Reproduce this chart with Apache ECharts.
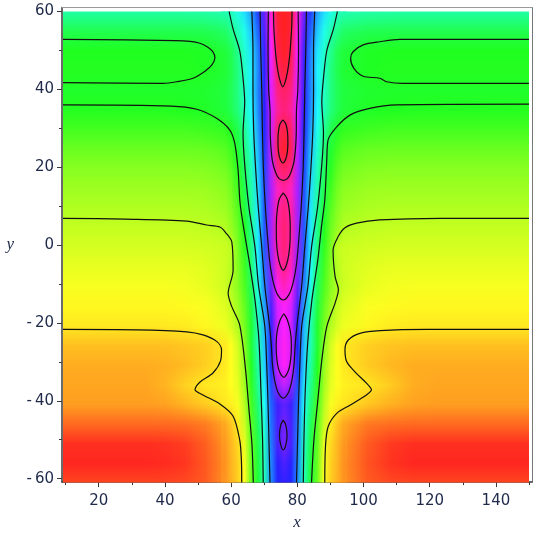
<!DOCTYPE html>
<html>
<head>
<meta charset="utf-8">
<script src="https://cdn.jsdelivr.net/npm/echarts@6/dist/echarts.min.js"></script>
<style>
html, body { margin: 0; padding: 0; background: #fff; }
#main { width: 538px; height: 536px; }
</style>
</head>
<body>
<div id="main"></div>
<script>
// sample positions of the density field (three evenly spaced blocks: left, centre, right)
var xs = [10, 16, 22, 28, 34, 40, 46, 52, 58,
          60, 62, 64, 66, 68, 70, 72, 74, 76, 78, 80, 82, 84, 86, 88, 90, 92, 94,
          101, 108, 115, 122, 129, 136, 143, 150];
var ys = [60, 55, 50, 45, 40, 35, 30, 25, 20, 15, 10, 5, 0, -5, -10, -15, -20, -25, -30, -35, -40, -45, -50, -55, -60];

// field value, as hue in degrees (one row per y)
var hueRows = [
  [155,155,155,155,155,155,155,156,159,164,173,189,205,231,259,310,355,360,355,310,259,231,205,189,173,164,159,156,155,155,155,155,155,155,155],
  [132,132,132,132,132,132,132,133,138,148,160,175,195,221,252,304,352,360,352,304,252,221,195,175,160,148,138,133,132,132,132,132,132,132,132],
  [120,120,120,120,120,120,120,121,127,134,150,168,187,213,246,298,348,358,348,298,246,213,187,168,150,134,127,121,120,120,120,120,120,120,120],
  [119,119,119,119,119,119,119,121,125,133,146,165,183,211,244,294,342,352,342,294,244,211,183,165,146,133,125,121,119,119,119,119,119,119,119],
  [123,123,123,123,123,123,123,124,128,135,147,164,185,212,244,292,333,342,333,292,244,212,185,164,147,135,128,124,123,123,123,123,123,123,123],
  [119,119,119,119,119,119,120,122,127,134,145,162,181,209,242,290,327,336,327,290,242,209,181,162,145,134,127,122,120,119,119,119,119,119,119],
  [110,110,110,110,110,110,110,112,115,122,133,152,175,204,238,287,340,350,340,287,238,204,175,152,133,122,115,112,110,110,110,110,110,110,110],
  [100,100,100,100,100,100,100,101,105,112,125,145,168,198,234,284,345,356,345,284,234,198,168,145,125,112,105,101,100,100,100,100,100,100,100],
  [92,92,92,92,92,92,92,93,97,104,118,138,162,193,230,281,332,342,332,281,230,193,162,138,118,104,97,93,92,92,92,92,92,92,92],
  [86,86,86,86,86,86,86,87,91,98,112,132,157,189,227,278,316,327,316,278,227,189,157,132,112,98,91,87,86,86,86,86,86,86,86],
  [81,81,81,81,81,81,81,82,86,93,106,127,153,186,226,277,323,335,323,277,226,186,153,127,106,93,86,82,81,81,81,81,81,81,81],
  [76,76,76,76,76,76,76,77,80,88,100,120,149,185,225,276,325,338,325,276,225,185,149,120,100,88,80,77,76,76,76,76,76,76,76],
  [71,71,71,71,71,71,71,72,74,77,96,116,145,185,225,275,322,337,322,275,225,185,145,116,96,77,74,72,71,71,71,71,71,71,71],
  [66,66,66,66,66,66,66,68,73,80,93,112,141,180,220,270,317,332,317,270,220,180,141,112,93,80,73,68,66,66,66,66,66,66,66],
  [62,62,62,62,62,62,63,66,73,81,92,108,136,173,213,262,305,318,305,262,213,173,136,108,92,81,73,66,63,62,62,62,62,62,62],
  [58,58,58,58,58,58,59,61,68,75,86,102,129,165,205,253,290,302,290,253,205,165,129,102,86,75,68,61,59,58,58,58,58,58,58],
  [54,54,54,54,54,54,55,58,64,71,81,97,124,160,199,246,288,300,288,246,199,160,124,97,81,71,64,58,55,54,54,54,54,54,54],
  [43,43,43,43,43,43,45,47,54,60,72,92,125,160,196,240,291,304,291,240,196,160,125,92,72,60,54,47,44,43,43,43,43,43,43],
  [38,38,38,38,38,39,42,47,54,60,70,88,120,155,192,236,289,302,289,236,192,155,120,88,70,60,54,46,41,38,38,38,38,38,38],
  [36,36,36,36,36,40,48,54,56,60,67,85,116,150,186,228,272,284,272,228,186,150,116,85,67,60,56,53,46,38,36,36,36,36,36],
  [34,34,34,34,34,35,40,46,53,56,62,80,110,142,178,222,248,257,248,222,178,142,110,80,62,56,53,45,39,35,34,34,34,34,34],
  [20,20,20,20,20,20,21,25,36,45,55,74,105,135,170,218,251,263,251,218,170,135,105,74,55,45,36,24,21,20,20,20,20,20,20],
  [4,4,4,4,4,5,8,17,32,41,50,66,102,130,165,216,251,264,251,216,165,130,102,66,50,41,32,16,7,4,4,4,4,4,4],
  [2,2,2,2,2,3,6,15,30,40,48,62,100,127,162,213,243,252,243,213,162,127,100,62,48,40,30,14,5,2,2,2,2,2,2],
  [10,10,10,10,10,10,11,16,31,39,47,60,100,125,160,212,238,245,238,212,160,125,100,60,47,39,31,16,11,10,10,10,10,10,10]
];

// tick values
var xTicks = [20, 40, 60, 80, 100, 120, 140];
var xMinorTicks = [10, 30, 50, 70, 90, 110, 130, 150];
var yTicks = [60, 40, 20, 0, -20, -40, -60];
var yMinorTicks = [50, 30, 10, -10, -30, -50];

// contour lines, [x, y]
var loopLeft = [[9.2,52.9],[43.0,52.6],[47.6,52.4],[50.6,51.9],[53.0,50.9],[54.5,49.7],[55.1,48.2],[54.2,46.4],[52.1,44.8],[48.5,43.0],[43.5,42.1],[39.5,41.7],[9.2,41.9]];
var loopRight = [[150,52.9],[111,52.9],[104.9,52.3],[99.9,51.5],[96.9,49.8],[96.1,48.1],[97.1,45.5],[99.9,43.5],[104.9,43.0],[107.0,42.1],[112.0,41.7],[150,41.7]];
var lineBLeft = [[9.2,36.2],[42.0,35.9],[49.6,35.1],[55.6,32.8],[59.6,29.8],[61.1,26.4],[62.1,19.6],[62.7,11.2],[63.9,4.3],[65.4,-3.3],[67.2,-13.5],[68.4,-23.7],[69.0,-36.4],[69.5,-49.2],[69.7,-60]];
var lineBRight = [[150,36.4],[110,36.2],[101.9,35.3],[95.9,33.6],[91.9,30.6],[89.3,27.3],[88.9,22.2],[88.3,12.0],[87.3,5.2],[86.2,-3.3],[84.4,-13.5],[83.2,-23.7],[82.4,-36.4],[82.0,-49.2],[81.8,-60]];
var lineCLeft = [[9.2,7.3],[27.9,7.1],[46.6,6.6],[52.6,5.6],[56.6,5.1],[58.4,3.6],[60.2,1.3],[60.6,-5.9],[59.1,-11.8],[60.2,-15.2],[62.6,-19.9],[64.3,-30.8],[65.4,-41.5],[66.3,-50.4],[66.7,-60]];
var lineCRight = [[150,7.3],[123.1,7.3],[104.9,6.9],[97.9,6.1],[94.4,4.9],[92.3,2.6],[90.8,-0.8],[91.4,-7.5],[92.4,-10.9],[91.4,-14.3],[88.9,-20.3],[87.4,-28.8],[86.2,-39.0],[85.0,-49.2],[84.3,-60]];
var lineDLeft = [[9.2,-21.0],[31.5,-21.1],[46.6,-21.6],[51.5,-22.4],[55.7,-24.1],[57.1,-26.2],[56.8,-29.0],[54.5,-32.1],[50.6,-34.4],[49.1,-36.4],[51.5,-37.7],[56.6,-40.0],[60.6,-43.1],[62.6,-49.2],[63.1,-54.3],[63.2,-60]];
var lineDRight = [[150,-21.0],[119.5,-21.0],[105,-21.3],[98.9,-22.0],[95.4,-23.7],[94.4,-26.2],[94.9,-29.2],[97.4,-31.8],[100.9,-34.7],[102.4,-36.4],[100.9,-37.7],[95.9,-40.3],[91.9,-42.4],[89.3,-45.8],[88.5,-50.9],[88.3,-60]];
var lineELeft = [[59.4,60],[60.6,55.5],[62.6,50],[63.6,43],[64.1,37],[63.6,29],[64.1,21],[65.4,10],[67.2,0],[68.3,-10],[70.15,-20],[70.75,-30],[71.15,-40],[71.45,-50],[71.75,-60]];
var lineERight = [[92.1,60],[90.9,55.5],[88.9,50],[87.9,43],[87.4,37],[87.9,29],[87.4,21],[86.1,10],[84.3,0],[83.2,-10],[81.35,-20],[80.75,-30],[80.35,-40],[80.05,-50],[79.75,-60]];
var lineF = [[66.25,60],[66.6,50],[66.6,40],[66.8,30],[67.4,20],[68.2,10],[69.25,0],[70.2,-10],[71.6,-20],[72.15,-25],[72.5,-30],[73.15,-34],[74.15,-37],[75.75,-38.5],[77.35,-37],[78.35,-34],[79.0,-30],[79.35,-25],[79.9,-20],[81.3,-10],[82.25,0],[83.3,10],[84.1,20],[84.7,30],[84.9,40],[84.9,50],[85.25,60]];
var lineG = [[68.75,60],[68.95,50],[69.25,40],[69.45,30],[69.75,20],[70.35,10],[71.25,0],[71.85,-5],[72.75,-9],[73.95,-12],[75.75,-13.5],[77.55,-12],[78.75,-9],[79.65,-5],[80.25,0],[81.15,10],[81.75,20],[82.05,30],[82.25,40],[82.55,50],[82.75,60]];
var lineH = [[71.25,60],[71.15,50],[71.35,40],[71.75,35],[71.85,28],[72.45,22],[73.45,19],[74.5,17.4],[75.75,17],[77.0,17.4],[78.05,19],[79.05,22],[79.65,28],[79.75,35],[80.15,40],[80.35,50],[80.25,60]];
var ovalTop = [[72.8,60],[72.9,56],[73.2,52],[73.6,48],[74.2,44.5],[74.9,42],[75.6,40.8],[76.3,42],[77.0,44.5],[77.6,48],[78.0,52],[78.3,56],[78.4,60]];
var ovalRed = [[75.65,32.4],[74.8,31.4],[74.3,29.5],[74.15,26.9],[74.3,24.3],[74.8,22.4],[75.65,21.4],[76.5,22.4],[77.0,24.3],[77.15,26.9],[77.0,29.5],[76.5,31.4],[75.65,32.4]];
var ovalPink = [[75.75,13.8],[74.6,12.3],[73.95,9.5],[73.65,5.5],[73.7,1.5],[74.1,-2],[74.8,-4.6],[75.75,-5.9],[76.7,-4.6],[77.4,-2],[77.8,1.5],[77.85,5.5],[77.55,9.5],[76.9,12.3],[75.75,13.8]];
var ovalMagenta = [[75.9,-17],[74.8,-18.6],[73.9,-21.5],[73.6,-25],[73.8,-28.5],[74.5,-31.5],[75.9,-33.2],[77.3,-31.5],[78.0,-28.5],[78.2,-25],[77.9,-21.5],[77.0,-18.6],[75.9,-17]];
var ovalSmall = [[75.75,-44.1],[75.0,-45.3],[74.6,-47.9],[75.0,-50.5],[75.75,-51.7],[76.5,-50.5],[76.9,-47.9],[76.5,-45.3],[75.75,-44.1]];

var contours = [loopLeft, loopRight, lineBLeft, lineBRight, lineCLeft, lineCRight,
                lineDLeft, lineDRight, lineELeft, lineERight, lineF, lineG, lineH,
                ovalTop, ovalRed, ovalPink, ovalMagenta, ovalSmall];

// hue -> maple like colour
function hueRGB(h) {
    h = ((h % 360) + 360) % 360;
    var lo = 32, hi = 255;
    var seg = h / 60, i = Math.floor(seg), f = seg - i;
    var up = lo + (hi - lo) * f, dn = hi - (hi - lo) * f;
    switch (i) {
        case 0: return [hi, up, lo];
        case 1: return [dn, hi, lo];
        case 2: return [lo, hi, up];
        case 3: return [lo, dn, hi];
        case 4: return [up, lo, hi];
        default: return [hi, lo, dn];
    }
}

// one small bitmap per block, the browser smooths it when scaled
function buildCanvas(from, to) {
    var w = to - from + 1, h = ys.length;
    var c = document.createElement('canvas');
    c.width = w; c.height = h;
    var ctx = c.getContext('2d');
    var img = ctx.createImageData(w, h);
    for (var j = 0; j < h; j++) {
        for (var i = 0; i < w; i++) {
            var rgb = hueRGB(hueRows[j][from + i]);
            var k = (j * w + i) * 4;
            img.data[k] = rgb[0]; img.data[k + 1] = rgb[1]; img.data[k + 2] = rgb[2]; img.data[k + 3] = 255;
        }
    }
    ctx.putImageData(img, 0, 0);
    return c;
}

var blocks = [
    { from: 0, to: 8 },
    { from: 26, to: 34 },
    { from: 8, to: 26 }
];
blocks.forEach(function (b) { b.canvas = buildCanvas(b.from, b.to); });

function renderField(params, api) {
    var b = blocks[api.value(2)];
    var x0 = xs[b.from], x1 = xs[b.to];
    var dx = (x1 - x0) / (b.to - b.from);
    var dy = (ys[0] - ys[ys.length - 1]) / (ys.length - 1);
    var p0 = api.coord([x0 - dx / 2, ys[0] + dy / 2]);
    var p1 = api.coord([x1 + dx / 2, ys[ys.length - 1] - dy / 2]);
    return {
        type: 'image',
        z2: api.value(2),
        style: { image: b.canvas, x: p0[0], y: p0[1], width: p1[0] - p0[0], height: p1[1] - p0[1] }
    };
}

// plot area and frame box
var xLo = 9.2, xHi = 150, yLo = -60, yHi = 60;
var plotBox = { left: 63, right: 9, top: 11.5, bottom: 53.5 };
var frameBox = { left: 62, right: 6, top: 7.5, bottom: 50 };
var pxX = (538 - plotBox.left - plotBox.right) / (xHi - xLo);
var pxY = (536 - plotBox.top - plotBox.bottom) / (yHi - yLo);
var fxLo = xLo - (plotBox.left - frameBox.left) / pxX;
var fxHi = xHi + (plotBox.right - frameBox.right) / pxX;
var fyHi = yHi + (plotBox.top - frameBox.top) / pxY;
var fyLo = yLo - (plotBox.bottom - frameBox.bottom) / pxY;

var labelColor = '#1f2a4a';
var axisColor = '#3a3a3a';
var labelFont = { fontFamily: 'DejaVu Sans', fontSize: 15, color: labelColor };
var nameFont = { fontFamily: 'Liberation Serif', fontStyle: 'italic', fontSize: 17, color: labelColor };

var series = [{
    type: 'custom',
    xAxisIndex: 3,
    yAxisIndex: 3,
    clip: true,
    silent: true,
    renderItem: renderField,
    data: blocks.map(function (b, i) { return [xs[b.from], ys[0], i]; }),
    z: 1
}];
contours.forEach(function (c) {
    series.push({
        type: 'line',
        xAxisIndex: 3,
        yAxisIndex: 3,
        data: c,
        smooth: 0.3,
        symbol: 'none',
        silent: true,
        clip: true,
        lineStyle: { color: '#111', width: 1.2 },
        z: 3
    });
});

var myChart = echarts.init(document.getElementById('main'));
var option = {
    animation: false,
    grid: [
        { left: frameBox.left, right: frameBox.right, top: frameBox.top, bottom: frameBox.bottom },
        { left: plotBox.left, right: plotBox.right, top: plotBox.top, bottom: plotBox.bottom }
    ],
    xAxis: [
        {
            type: 'value', gridIndex: 0, position: 'bottom', min: fxLo, max: fxHi,
            axisLine: { onZero: false, lineStyle: { color: axisColor, width: 1.5 } },
            axisTick: { customValues: xTicks, length: 5, lineStyle: { color: axisColor } },
            axisLabel: Object.assign({ customValues: xTicks, margin: 12 }, labelFont),
            splitLine: { show: false },
            name: 'x', nameLocation: 'middle', nameGap: 27, nameTextStyle: nameFont
        },
        {
            type: 'value', gridIndex: 0, position: 'bottom', min: fxLo, max: fxHi,
            axisLine: { show: false, onZero: false },
            axisTick: { customValues: xMinorTicks, length: 3, lineStyle: { color: axisColor } },
            axisLabel: { show: false },
            splitLine: { show: false }
        },
        {
            type: 'value', gridIndex: 0, position: 'top', min: fxLo, max: fxHi,
            axisLine: { onZero: false, lineStyle: { color: '#9a9a9a', width: 1 } },
            axisTick: { show: false }, axisLabel: { show: false }, splitLine: { show: false }
        },
        { type: 'value', gridIndex: 1, min: xLo, max: xHi, show: false }
    ],
    yAxis: [
        {
            type: 'value', gridIndex: 0, position: 'left', min: fyLo, max: fyHi,
            axisLine: { onZero: false, lineStyle: { color: axisColor, width: 1.5 } },
            axisTick: { customValues: yTicks, length: 5, lineStyle: { color: axisColor } },
            axisLabel: Object.assign({
                customValues: yTicks, margin: 8,
                formatter: function (v) { return v < 0 ? '-\u2009' + Math.abs(v) : String(v); }
            }, labelFont),
            splitLine: { show: false },
            name: 'y', nameLocation: 'middle', nameRotate: 0, nameGap: 48, nameTextStyle: nameFont
        },
        {
            type: 'value', gridIndex: 0, position: 'left', min: fyLo, max: fyHi,
            axisLine: { show: false, onZero: false },
            axisTick: { customValues: yMinorTicks, length: 3, lineStyle: { color: axisColor } },
            axisLabel: { show: false },
            splitLine: { show: false }
        },
        {
            type: 'value', gridIndex: 0, position: 'right', min: fyLo, max: fyHi,
            axisLine: { onZero: false, lineStyle: { color: '#777', width: 1 } },
            axisTick: { show: false }, axisLabel: { show: false }, splitLine: { show: false }
        },
        { type: 'value', gridIndex: 1, min: yLo, max: yHi, show: false }
    ],
    series: series
};
myChart.setOption(option);
</script>
</body>
</html>
